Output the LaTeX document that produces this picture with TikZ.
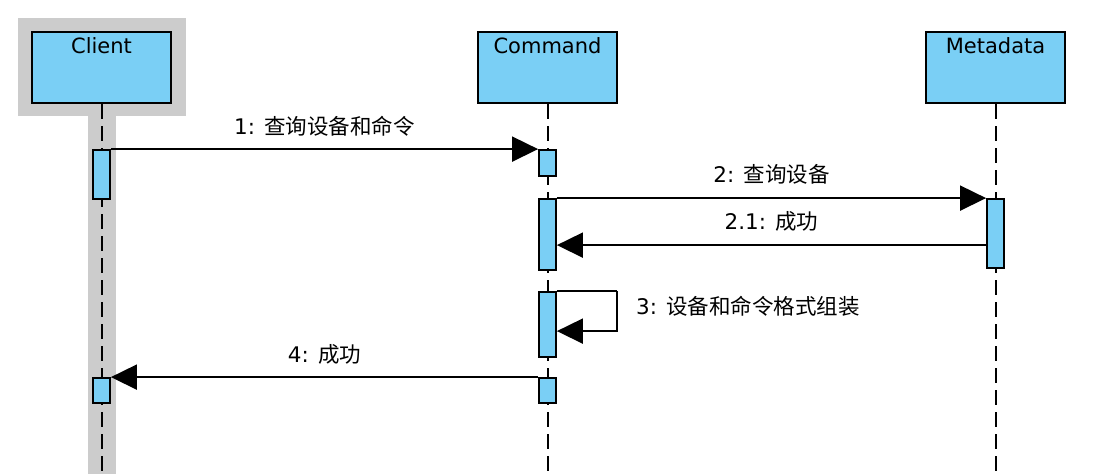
\documentclass[tikz,border=0pt]{standalone}
\usepackage{fontspec}
\setmainfont{DejaVu Sans}
\newfontfamily\cjk{Noto Sans CJK SC}
\usetikzlibrary{arrows.meta,calc}
\definecolor{actorblue}{HTML}{7ACFF5}
\definecolor{selgray}{HTML}{CCCCCC}
\begin{document}
\begin{tikzpicture}[x=1pt,y=-1pt,
  actor/.style={draw=black,fill=actorblue,line width=2pt,minimum width=139pt,minimum height=71pt,inner sep=0pt},
  actorlabel/.style={anchor=base,inner sep=0pt,font=\fontsize{21}{24}\selectfont},
  act/.style={draw=black,fill=actorblue,line width=1.8pt,minimum width=17pt,inner sep=0pt},
  lifeline/.style={line width=2pt,dash pattern=on 15pt off 7pt},
  msg/.style={line width=1.8pt,-{Triangle[length=26pt,width=25pt]}},
  msglabel/.style={inner sep=0pt,font=\fontsize{21.5}{24}\selectfont}]
\useasboundingbox (0,0) rectangle (1120,474);
% selection highlight
\fill[selgray] (18,18) rectangle (186,116);
\fill[selgray] (88,116) rectangle (116,474);
% actors
\node[actor] (client) at (101.5,67.5) {};
\node[actor] (command) at (547.5,67.5) {};
\node[actor] (meta) at (995.5,67.5) {};
\node[actorlabel] (clientlbl) at (101.5,53) {Client};
\node[actorlabel] (commandlbl) at (547.5,53) {Command};
\node[actorlabel] (metalbl) at (995.5,53) {Metadata};
% lifelines
\coordinate (clientend) at (101.5,474);
\coordinate (commandend) at (547.5,474);
\coordinate (metaend) at (995.5,474);
\draw[lifeline] (client.south) -- (clientend);
\draw[lifeline] (command.south) -- (commandend);
\draw[lifeline] (meta.south) -- (metaend);
% activations
\node[act,minimum height=49pt] (k1) at (101.5,174.5) {};
\node[act,minimum height=25pt] (k2) at (101.5,390.5) {};
\node[act,minimum height=26pt] (c1) at (547.5,163) {};
\node[act,minimum height=71pt] (c2) at (547.5,234.5) {};
\node[act,minimum height=65pt] (c3) at (547.5,324.5) {};
\node[act,minimum height=25pt] (c4) at (547.5,390.5) {};
\node[act,minimum height=69pt] (m1) at (995.5,233.5) {};
% messages
\draw[msg] (k1.north east) -- (c1.north west);
\node[msglabel] (l1) at ($(k1.north east)!0.5!(c1.north west)+(0,-23)$) {1: {\cjk 查询设备和命令}};
\draw[msg] (c2.north east) -- (m1.north west);
\node[msglabel] (l2) at ($(c2.north east)!0.5!(m1.north west)+(0,-24)$) {2: {\cjk 查询设备}};
\coordinate (r21) at ($(m1.north west)+(0,47)$);
\draw[msg] (r21) -- (r21 -| c2.east);
\node[msglabel] (l21) at ($(r21)!0.5!(r21 -| c2.east)+(0,-24)$) {2.1: {\cjk 成功}};
\coordinate (s3) at ($(c3.north east)+(60,0)$);
\coordinate (s3b) at ($(c3.north east)+(0,40)$);
\draw[line width=1.8pt] (c3.north east) -- (s3);
\draw[msg] (s3) |- (s3b);
\node[msglabel,anchor=west] (l3) at (636,306) {3: {\cjk 设备和命令格式组装}};
\draw[msg] (c4.north west) -- (k2.north east);
\node[msglabel] (l4) at ($(c4.north west)!0.5!(k2.north east)+(0,-23)$) {4: {\cjk 成功}};
\end{tikzpicture}
\end{document}
